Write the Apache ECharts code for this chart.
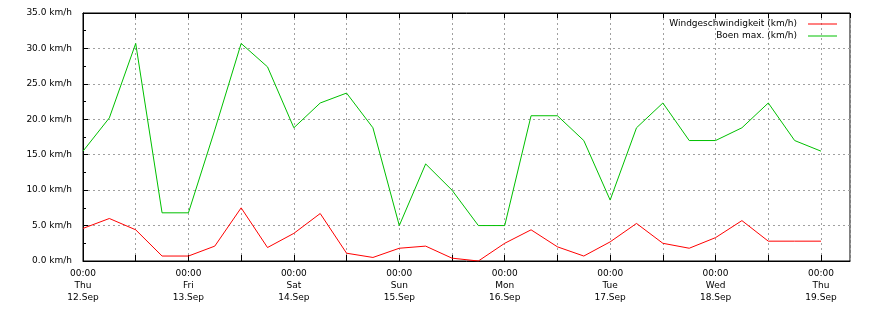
<!DOCTYPE html>
<html>
<head>
<meta charset="utf-8">
<script src="https://cdn.jsdelivr.net/npm/echarts@6/dist/echarts.min.js"></script>
<style>
html,body{margin:0;padding:0;background:#fff;}
#chart{width:870px;height:310px;}
</style>
</head>
<body>
<div id="chart"></div>
<script>
// hours since Thu 12.Sep 00:00, 6-hourly
const hours = [0,6,12,18,24,30,36,42,48,54,60,66,72,78,84,90,96,102,108,114,120,126,132,138,144,150,156,162,168];
const wind = [4.6,6.0,4.4,0.7,0.7,2.1,7.5,1.9,3.9,6.7,1.1,0.5,1.8,2.1,0.4,0.0,2.5,4.4,2.0,0.7,2.7,5.3,2.5,1.8,3.3,5.7,2.8,2.8,2.8];
const gust = [15.5,20.2,30.7,6.8,6.8,18.5,30.7,27.4,18.8,22.3,23.7,18.8,5.0,13.7,10.0,5.0,5.0,20.5,20.5,17.0,8.6,18.8,22.3,17.0,17.0,18.8,22.3,17.0,15.5];
const dayNames = ['Thu','Fri','Sat','Sun','Mon','Tue','Wed','Thu'];
const dayDates = ['12.Sep','13.Sep','14.Sep','15.Sep','16.Sep','17.Sep','18.Sep','19.Sep'];
const seriesNames = ['Windgeschwindigkeit (km/h)','Boen max. (km/h)'];

const font = 'DejaVu Sans';
const chart = echarts.init(document.getElementById('chart'), null, {renderer:'canvas'});
const gridLine = {show:true, lineStyle:{color:'#a0a0a0', width:1, type:[2,3]}};
const xMax = 174.6;
chart.setOption({
  animation:false,
  backgroundColor:'#fff',
  grid:{left:83, right:20, top:13, bottom:49, show:true, borderColor:'#000', borderWidth:1, backgroundColor:'transparent'},
  legend:{
    show:true, orient:'vertical', right:28, top:15, left:'auto', bottom:'auto', align:'right',
    itemWidth:29, itemHeight:1, itemGap:0, icon:'rect', padding:[3,5,3,5],
    textStyle:{fontFamily:font, fontSize:9, color:'#000', lineHeight:12, padding:[0,6,0,0]},
    data:[{name:seriesNames[0], itemStyle:{color:'#ff0000'}},
          {name:seriesNames[1], itemStyle:{color:'#00c000'}}]
  },
  xAxis:[{
    type:'value', min:0, max:xMax, interval:12, position:'bottom',
    axisLine:{show:true, lineStyle:{color:'#000'}},
    axisTick:{show:true, inside:true, length:6, lineStyle:{color:'#000'}},
    splitLine:gridLine,
    axisLabel:{show:true, showMaxLabel:false, margin:7, fontFamily:font, fontSize:9, color:'#000', lineHeight:12,
      formatter:function(v){ if (v % 24 !== 0) return ''; const i = v/24; return '00:00\n' + dayNames[i] + '\n' + dayDates[i]; }}
  },{
    type:'value', min:0, max:xMax, interval:12, position:'top',
    axisLine:{show:true, lineStyle:{color:'#000'}},
    axisTick:{show:true, inside:true, length:5, lineStyle:{color:'#000'}},
    splitLine:{show:false}, axisLabel:{show:false}
  }],
  yAxis:{
    type:'value', min:0, max:35, interval:5,
    axisLine:{show:true, lineStyle:{color:'#000'}},
    axisTick:{show:true, inside:true, length:5, lineStyle:{color:'#000'}},
    minorTick:{show:true, splitNumber:2, length:3, lineStyle:{color:'#000'}},
    splitLine:gridLine,
    axisLabel:{margin:11, fontFamily:font, fontSize:9, color:'#000', formatter:function(v){return v.toFixed(1)+' km/h';}}
  },
  series:[
    {name:seriesNames[0], type:'line', symbol:'none', data:hours.map((h,i)=>[h,wind[i]]), lineStyle:{color:'#ff0000', width:1}, itemStyle:{color:'#ff0000'}},
    {name:seriesNames[1], type:'line', symbol:'none', data:hours.map((h,i)=>[h,gust[i]]), lineStyle:{color:'#00c000', width:1}, itemStyle:{color:'#00c000'}}
  ]
});
</script>
</body>
</html>
